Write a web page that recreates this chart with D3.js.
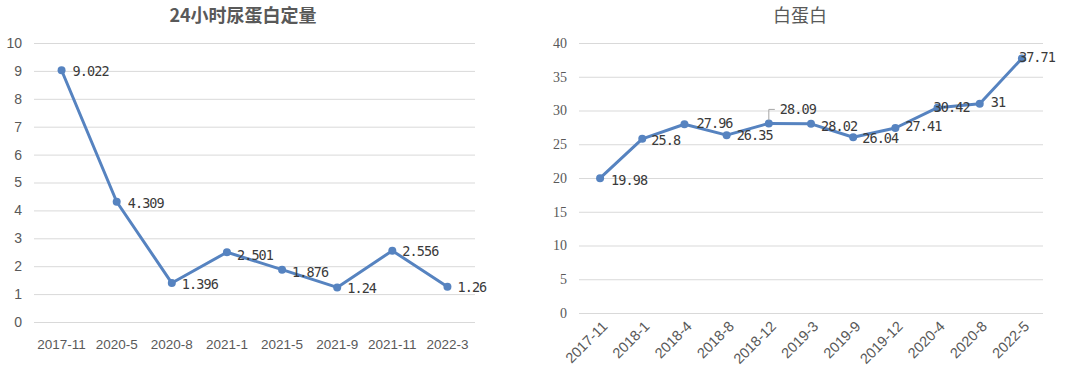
<!DOCTYPE html>
<html><head><meta charset="utf-8">
<script src="https://cdn.jsdelivr.net/npm/d3@7"></script>
<style>
html,body{margin:0;padding:0;background:#fff;}
svg{display:block;}
</style>
</head><body>
<svg id="c" width="1080" height="382"></svg>
<script>
// ---- data ----
const leftTitle = "24小时尿蛋白定量";
const leftCategories = ["2017-11","2020-5","2020-8","2021-1","2021-5","2021-9","2021-11","2022-3"];
const leftValues = [9.022, 4.309, 1.396, 2.501, 1.876, 1.24, 2.556, 1.26];
const leftLabels = ["9.022","4.309","1.396","2.501","1.876","1.24","2.556","1.26"];
const leftTicks = [0,1,2,3,4,5,6,7,8,9,10];

const rightTitle = "白蛋白";
const rightCategories = ["2017-11","2018-1","2018-4","2018-8","2018-12","2019-3","2019-9","2019-12","2020-4","2020-8","2022-5"];
const rightValues = [19.98, 25.8, 27.96, 26.35, 28.09, 28.02, 26.04, 27.41, 30.42, 31, 37.71];
const rightLabels = ["19.98","25.8","27.96","26.35","28.09","28.02","26.04","27.41","30.42","31","37.71"];
const rightTicks = [0,5,10,15,20,25,30,35,40];

// label placement (style, not data)
const leftLabelOffsets = [[11,1],[11,1],[10,1],[10,3],[10,2],[10,1],[10,0],[10,0]];
const rightLabelOffsets = [[11,2],[9,1],[12,-1],[10,0],[null,null],[10,2],[9,1],[10,-2],[-4,-1],[11,-2],[-3,-1]];

const lineColor = "#5683c0";
const gridColor = "#d9d9d9";
const textColor = "#595959";
const labelColor = "#3a3a3a";
const svg = d3.select("#c");

function drawChart(cfg){
  const g = svg.append("g");
  const x = d3.scaleBand().domain(cfg.categories).range([cfg.x0, cfg.x1]);
  const y = d3.scaleLinear().domain([0, cfg.max]).range([cfg.y0, cfg.y1]);

  // title
  g.append("text").attr("x", cfg.titleX).attr("y", 22).attr("text-anchor","middle")
    .attr("font-family","'Noto Sans CJK SC', sans-serif").attr("font-size", 18)
    .attr("font-weight", cfg.titleBold ? "bold" : "normal")
    .attr("fill", textColor).text(cfg.title);

  // grid
  g.append("g").selectAll("line").data(cfg.ticks).join("line")
    .attr("x1", cfg.x0).attr("x2", cfg.x1)
    .attr("y1", d => y(d)+0.5).attr("y2", d => y(d)+0.5)
    .attr("stroke", gridColor).attr("stroke-width", 1);

  // y axis labels
  const ya = g.append("g").attr("transform", `translate(${cfg.x0},0)`)
    .call(d3.axisLeft(y).tickValues(cfg.ticks).tickSize(0).tickPadding(cfg.yPad));
  ya.select(".domain").remove();
  ya.selectAll("text").attr("font-family", cfg.yFont).attr("font-size", 14).attr("fill", textColor);

  // x axis labels
  const xa = g.append("g").attr("transform", `translate(0,${cfg.y0})`)
    .call(d3.axisBottom(x).tickSize(0).tickPadding(cfg.xPad));
  xa.select(".domain").remove();
  xa.selectAll("text").attr("font-family","'Liberation Sans', Arial, sans-serif").attr("font-size", 13.5).attr("fill", textColor);
  if (cfg.rotate){
    xa.selectAll("text").attr("text-anchor","end").attr("dy","0").attr("font-size", 14.5)
      .attr("transform","translate(4,10) rotate(-45)");
  }

  const pts = cfg.categories.map((c,i) => ({c, v: cfg.values[i], l: cfg.labels[i], o: cfg.offsets[i]}));
  const cx = d => x(d.c) + x.bandwidth()/2;

  g.append("path").datum(pts)
    .attr("d", d3.line().x(cx).y(d => y(d.v)))
    .attr("fill","none").attr("stroke", lineColor).attr("stroke-width", 3).attr("stroke-linejoin","round");

  g.append("g").selectAll("circle").data(pts).join("circle")
    .attr("cx", cx).attr("cy", d => y(d.v)).attr("r", 4).attr("fill", lineColor);

  // leader line labels
  pts.forEach(d => {
    if (d.o[0] === null){
      const px = cx(d), py = y(d.v);
      g.append("path").attr("d", `M${px},${py-3} V${py-14} H${px+6}`)
        .attr("fill","none").attr("stroke","#a6a6a6").attr("stroke-width",1);
      d.lx = px + 11; d.ly = py - 14;
    } else {
      d.lx = cx(d) + d.o[0]; d.ly = y(d.v) + d.o[1];
    }
  });

  g.append("g").selectAll("text").data(pts).join("text")
    .attr("x", d => d.lx).attr("y", d => d.ly).attr("dy","0.36em")
    .attr("font-family","'DejaVu Sans Mono','Liberation Mono', monospace")
    .attr("font-size", 13.5).attr("letter-spacing", -0.9).attr("fill", labelColor)
    .text(d => d.l);
}

drawChart({title: leftTitle, titleX: 243, titleBold: true, categories: leftCategories, values: leftValues,
  labels: leftLabels, offsets: leftLabelOffsets, ticks: leftTicks, max: 10,
  x0: 34, x1: 475, y0: 322, y1: 43, yPad: 12, xPad: 17, rotate: false,
  yFont: "'Liberation Sans', Arial, sans-serif"});

drawChart({title: rightTitle, titleX: 800, titleBold: false, categories: rightCategories, values: rightValues,
  labels: rightLabels, offsets: rightLabelOffsets, ticks: rightTicks, max: 40,
  x0: 579, x1: 1043, y0: 313, y1: 43, yPad: 12, xPad: 6, rotate: true,
  yFont: "'Liberation Serif', serif"});
</script>
</body></html>
